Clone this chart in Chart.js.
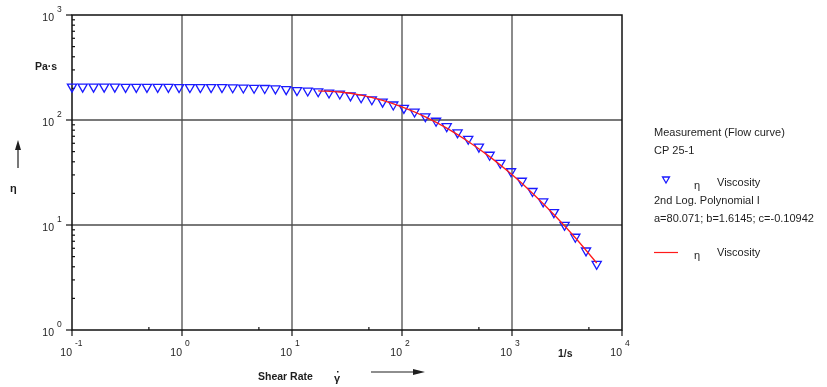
<!DOCTYPE html>
<html>
<head>
<meta charset="utf-8">
<script src="https://cdn.jsdelivr.net/npm/chart.js@4/dist/chart.umd.min.js"></script>
<style>
  body { margin: 0; background: #fff; }
  #wrap { width: 827px; height: 387px; }
</style>
</head>
<body>
<div id="wrap"><canvas id="flowChart" width="827" height="387"></canvas></div>
<script>
// Flow curve, CP 25-1: shear rate [1/s] vs viscosity [Pa·s]
const shearRate = [
  0.1, 0.125, 0.157, 0.196, 0.245, 0.307, 0.384, 0.48, 0.601, 0.752,
  0.941, 1.18, 1.47, 1.84, 2.31, 2.89, 3.61, 4.52, 5.65, 7.07,
  8.85, 11.1, 13.9, 17.3, 21.7, 27.2, 34.0, 42.5, 53.2, 66.6,
  83.3, 104, 130, 163, 204, 255, 320, 400, 500, 626,
  783, 980, 1227, 1535, 1920, 2403, 3007, 3763, 4709, 5890
];
const viscosity = [
  207, 207, 207, 207, 207, 206, 206, 206, 206, 206,
  205, 205, 205, 205, 205, 204, 203, 202, 201, 199,
  196, 192, 190, 187, 182, 178, 171, 164, 157, 149,
  140, 130, 120, 108, 98, 87, 76, 66, 55.5, 46.5,
  39, 32.4, 26.3, 21, 16.7, 13.2, 10.0, 7.7, 5.7, 4.25
];

// 2nd Log. Polynomial I fit curve
const fitRate = [17.3, 27.2, 42.5, 66.6, 104, 163, 255, 400, 626, 980, 1535, 2403, 3763, 5890];
const fitViscosity = [189.7, 184.8, 172.2, 153.5, 131.1, 107.1, 83.7, 62.5, 44.8, 30.7, 20.1, 12.6, 7.57, 4.35];

// axis decades and their exponent labels
const xDecades = [0.1, 1, 10, 100, 1000, 10000];
const xExponents = ['-1', '0', '1', '2', '3', '4'];
const yDecades = [1, 10, 100, 1000];
const yExponents = ['0', '1', '2', '3'];
const yMinorSteps = [2, 3, 4, 5, 6, 7, 8, 9];
const xMinorSteps = [5];

const legendLines = [
  'Measurement (Flow curve)',
  'CP 25-1',
  '2nd Log. Polynomial I',
  'a=80.071; b=1.6145; c=-0.10942'
];

const FONT = '"Liberation Sans", Arial, sans-serif';
const TEXT = '#1e1e1e';

const toPoints = (xs, ys) => xs.map((v, i) => ({ x: v, y: ys[i] }));

function downTriangle(ctx, cx, cy, r) {
  ctx.beginPath();
  ctx.moveTo(cx, cy + r);
  ctx.lineTo(cx - r * 0.866, cy - r * 0.5);
  ctx.lineTo(cx + r * 0.866, cy - r * 0.5);
  ctx.closePath();
  ctx.stroke();
}

function arrow(ctx, x1, y1, x2, y2, head) {
  const ang = Math.atan2(y2 - y1, x2 - x1);
  ctx.beginPath();
  ctx.moveTo(x1, y1);
  ctx.lineTo(x2 - Math.cos(ang) * head, y2 - Math.sin(ang) * head);
  ctx.stroke();
  ctx.beginPath();
  ctx.moveTo(x2, y2);
  ctx.lineTo(x2 - Math.cos(ang) * head - Math.sin(ang) * 3, y2 - Math.sin(ang) * head + Math.cos(ang) * 3);
  ctx.lineTo(x2 - Math.cos(ang) * head + Math.sin(ang) * 3, y2 - Math.sin(ang) * head - Math.cos(ang) * 3);
  ctx.closePath();
  ctx.fill();
}

// grid, frame and ticks go under the data
const gridPlugin = {
  id: 'gridPlugin',
  beforeDatasetsDraw(chart) {
    const { ctx, chartArea: a, scales: { x, y } } = chart;
    ctx.save();
    ctx.strokeStyle = '#4d4d4d';
    ctx.lineWidth = 1.3;
    xDecades.slice(1, -1).forEach(v => {
      const px = x.getPixelForValue(v);
      ctx.beginPath(); ctx.moveTo(px, a.top); ctx.lineTo(px, a.bottom); ctx.stroke();
    });
    yDecades.slice(1, -1).forEach(v => {
      const py = y.getPixelForValue(v);
      ctx.beginPath(); ctx.moveTo(a.left, py); ctx.lineTo(a.right, py); ctx.stroke();
    });

    // frame
    ctx.strokeStyle = '#111';
    ctx.lineWidth = 1.5;
    ctx.strokeRect(a.left, a.top, a.right - a.left, a.bottom - a.top);

    // major ticks stick out, minor ticks point inward
    ctx.lineWidth = 1.2;
    yDecades.forEach(v => {
      const py = y.getPixelForValue(v);
      ctx.beginPath(); ctx.moveTo(a.left - 6, py); ctx.lineTo(a.left, py); ctx.stroke();
      if (v < 1000) {
        yMinorSteps.forEach(m => {
          const pm = y.getPixelForValue(v * m);
          ctx.beginPath(); ctx.moveTo(a.left, pm); ctx.lineTo(a.left + 3, pm); ctx.stroke();
        });
      }
    });
    xDecades.forEach(v => {
      const px = x.getPixelForValue(v);
      ctx.beginPath(); ctx.moveTo(px, a.bottom); ctx.lineTo(px, a.bottom + 6); ctx.stroke();
      if (v < 10000) {
        xMinorSteps.forEach(m => {
          const pm = x.getPixelForValue(v * m);
          ctx.beginPath(); ctx.moveTo(pm, a.bottom); ctx.lineTo(pm, a.bottom - 3); ctx.stroke();
        });
      }
    });
    ctx.restore();
  },
  afterDraw(chart) {
    const { ctx, chartArea: a, scales: { x, y } } = chart;
    ctx.save();
    ctx.fillStyle = TEXT;
    ctx.strokeStyle = TEXT;
    ctx.textBaseline = 'middle';

    // tick labels as 10 with raised exponent
    yDecades.forEach((v, i) => {
      const py = y.getPixelForValue(v);
      ctx.font = '10.5px ' + FONT;
      ctx.textAlign = 'right';
      ctx.fillText('10', a.left - 18, py + 3);
      ctx.font = '8.5px ' + FONT;
      ctx.textAlign = 'left';
      ctx.fillText(yExponents[i], a.left - 15, py - 5);
    });
    xDecades.forEach((v, i) => {
      const px = x.getPixelForValue(v);
      ctx.font = '10.5px ' + FONT;
      ctx.textAlign = 'right';
      ctx.fillText('10', px, a.bottom + 23);
      ctx.font = '8.5px ' + FONT;
      ctx.textAlign = 'left';
      ctx.fillText(xExponents[i], px + 3, a.bottom + 14);
    });

    // axis titles and units
    ctx.font = 'bold 10.5px ' + FONT;
    ctx.textAlign = 'left';
    ctx.fillText('Pa·s', 35, 67);
    ctx.fillText('1/s', 558, a.bottom + 24);
    ctx.fillText('Shear Rate', 258, 377);
    ctx.font = 'bold 11px ' + FONT;
    ctx.fillText('γ', 334, 379);
    ctx.fillRect(337, 371, 1.5, 1.5);
    ctx.fillText('η', 10, 189);
    ctx.lineWidth = 1.2;
    arrow(ctx, 371, 372, 425, 372, 12);
    arrow(ctx, 18, 168, 18, 140, 10);

    // legend block
    const lx = 654;
    ctx.font = '11px ' + FONT;
    ctx.fillText(legendLines[0], lx, 133);
    ctx.fillText(legendLines[1], lx, 151);
    ctx.fillText(legendLines[2], lx, 201);
    ctx.fillText(legendLines[3], lx, 219);
    ctx.fillText('η', 694, 186);
    ctx.fillText('Viscosity', 717, 183);
    ctx.fillText('η', 694, 256);
    ctx.fillText('Viscosity', 717, 253);

    ctx.strokeStyle = '#1a1aff';
    ctx.lineWidth = 1.3;
    downTriangle(ctx, 666, 179, 4);
    ctx.strokeStyle = '#ff1a1a';
    ctx.lineWidth = 1.2;
    ctx.beginPath(); ctx.moveTo(lx, 252.5); ctx.lineTo(678, 252.5); ctx.stroke();
    ctx.restore();
  }
};

const ctx = document.getElementById('flowChart').getContext('2d');
new Chart(ctx, {
  type: 'scatter',
  data: {
    datasets: [
      {
        label: 'η Viscosity (fit)',
        data: toPoints(fitRate, fitViscosity),
        showLine: true,
        borderColor: '#ff1a1a',
        borderWidth: 1.3,
        pointRadius: 0,
        cubicInterpolationMode: 'monotone',
        clip: false,
        order: 0
      },
      {
        label: 'η Viscosity',
        data: toPoints(shearRate, viscosity),
        showLine: false,
        pointStyle: 'triangle',
        rotation: 180,
        pointRadius: 5.3,
        borderColor: '#1a1aff',
        backgroundColor: 'rgba(255,255,255,0)',
        borderWidth: 1.3,
        clip: false,
        order: 1
      }
    ]
  },
  options: {
    responsive: false,
    animation: false,
    layout: { padding: { left: 72, right: 205, top: 15, bottom: 57 } },
    plugins: {
      legend: { display: false },
      tooltip: { enabled: false }
    },
    scales: {
      x: { type: 'logarithmic', min: 0.1, max: 10000, display: false },
      y: { type: 'logarithmic', min: 1, max: 1000, display: false }
    }
  },
  plugins: [gridPlugin]
});
</script>
</body>
</html>
